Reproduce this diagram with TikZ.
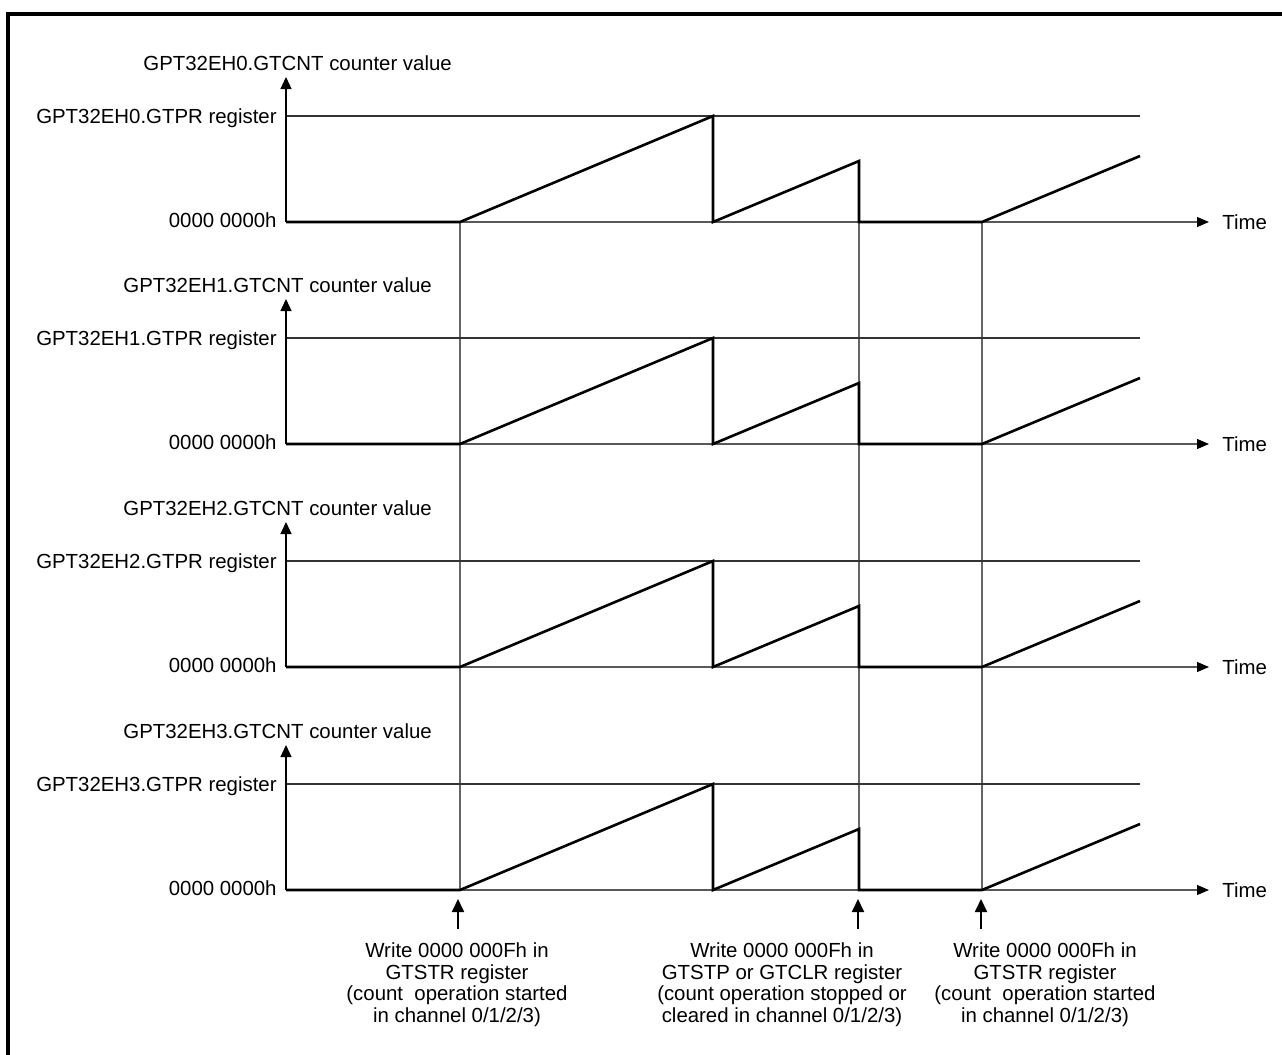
\documentclass[tikz,border=0pt]{standalone}
\usepackage{fontspec}
\setmainfont{Liberation Sans}
\usetikzlibrary{arrows.meta}
\begin{document}
\begin{tikzpicture}[x=0.5pt,y=-0.5pt,
  lbl/.style={inner sep=0pt,font=\fontsize{10.2}{10.75}\selectfont},
  thinln/.style={line width=0.55pt,draw=black!80},
  gridln/.style={line width=0.55pt,draw=black!60},
  axisln/.style={line width=0.55pt,draw=black!65,-{Triangle[length=6pt,width=5pt,color=black]}},
  yaxisln/.style={line width=0.65pt,draw=black,-{Triangle[length=6pt,width=5.5pt]}},
  wave/.style={line width=1.3pt,line join=miter},
  frameln/.style={line width=1.65pt},
  trig/.style={line width=0.9pt,-{Triangle[length=6.5pt,width=6pt]}},
  note/.style={lbl,align=center,anchor=north}]
\useasboundingbox (0,0) rectangle (1282,1055);
\draw[frameln] (8,1058) -- (8,14) -- (1285,14);

% vertical guide lines through all panels
\foreach \vx/\n in {460/a,859/c,982/d}{
  \coordinate (g\n top) at (\vx,222);
  \coordinate (g\n bot) at (\vx,891);
  \draw[gridln] (g\n top) -- (g\n bot);
}

\foreach \i/\z/\tx in {0/222/143,1/444/123,2/667/123,3/890/123}{
  \coordinate (o\i) at (286,\z);
  \coordinate (y\i) at (286,{\z-145});
  \coordinate (p\i) at (286,{\z-106});
  \coordinate (pe\i) at (1140,{\z-106});
  \coordinate (x\i) at (1209,\z);
  \draw[thinln] (p\i) -- (pe\i);
  \draw[axisln] (o\i) -- (x\i);
  \draw[yaxisln] (o\i) -- (y\i);
  \draw[wave] (o\i) -- (460,\z) -- (713,{\z-106}) -- (713,\z) -- (859,{\z-61}) -- (859,\z) -- (982,\z) -- (1140,{\z-66});
  \node[lbl,anchor=base west] (t\i) at (\tx,{\z-152}) {GPT32EH\i.GTCNT counter value};
  \node[lbl,anchor=base east] (r\i) at (277,{\z-99}) {GPT32EH\i.GTPR register};
  \node[lbl,anchor=base east] (zl\i) at (277,{\z+5}) {0000 0000h};
  \node[lbl,anchor=base west] (tm\i) at (1222,{\z+7}) {Time};
}

% trigger arrows
\coordinate (s1) at (458,929); \coordinate (e1) at (458,899);
\coordinate (s2) at (858,929); \coordinate (e2) at (858,899);
\coordinate (s3) at (981,929); \coordinate (e3) at (981,899);
\draw[trig] (s1) -- (e1);
\draw[trig] (s2) -- (e2);
\draw[trig] (s3) -- (e3);

\node[note] (n1) at (457,942.5) {Write 0000 000Fh in\\GTSTR register\\(count\ \ operation started\\in channel 0/1/2/3)};
\node[note] (n2) at (782,942.5) {Write 0000 000Fh in\\GTSTP or GTCLR register\\(count operation stopped or\\cleared in channel 0/1/2/3)};
\node[note] (n3) at (1045,942.5) {Write 0000 000Fh in\\GTSTR register\\(count\ \ operation started\\in channel 0/1/2/3)};
\end{tikzpicture}
\end{document}
